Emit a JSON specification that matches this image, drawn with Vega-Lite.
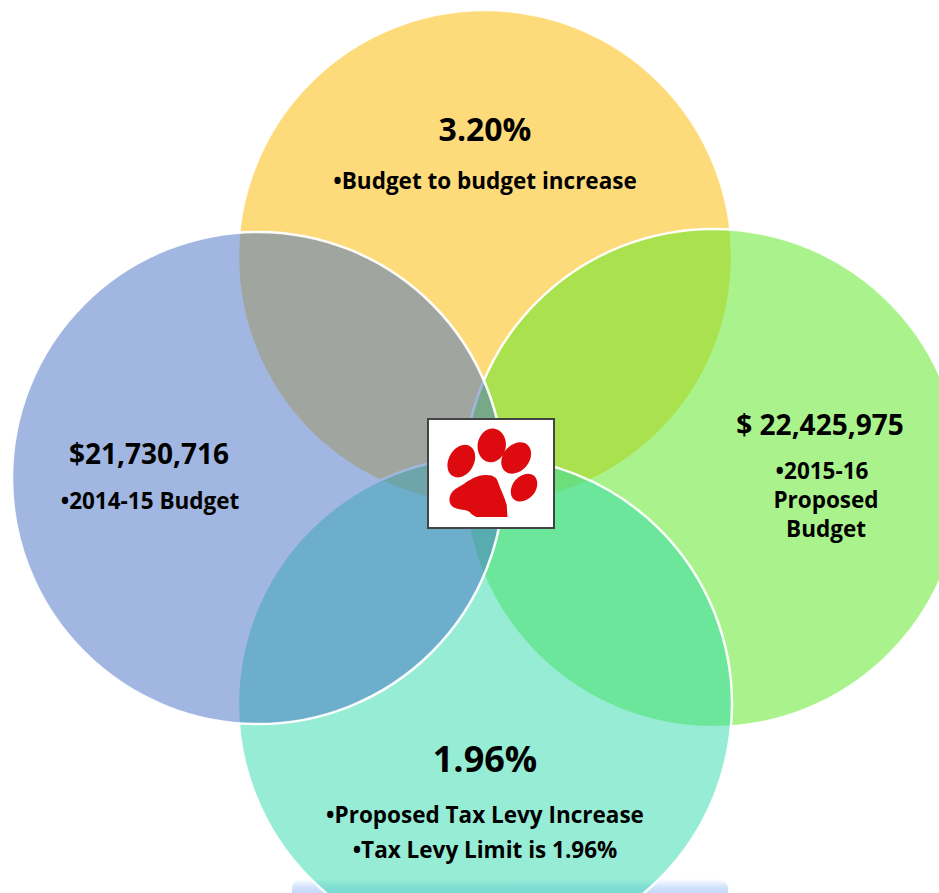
{
  "$schema": "https://vega.github.io/schema/vega-lite/v6.json",
  "width": 939,
  "height": 893,
  "autosize": {"type": "none"},
  "padding": 0,
  "background": "white",
  "config": {"view": {"stroke": null}},
  "datasets": {
    "glow": [{"x0": 292, "x1": 728, "y0": 879, "y1": 905}],
    "circles": [
      {"set": "Budget to budget increase", "cx": 485, "cy": 257, "r": 247},
      {"set": "2015-16 Proposed Budget", "cx": 713, "cy": 478, "r": 249},
      {"set": "Proposed Tax Levy Increase", "cx": 485, "cy": 704, "r": 247},
      {"set": "2014-15 Budget", "cx": 258, "cy": 478, "r": 246}
    ],
    "logo": [{"x0": 428, "x1": 554, "y0": 419, "y1": 528, "cx": 491, "cy": 473.5}],
    "labels": [
      {"text": "3.20%", "tier": "rate", "x": 485, "y": 131},
      {"text": "•Budget to budget increase", "tier": "note", "x": 485, "y": 182},
      {"text": "$21,730,716", "tier": "amount", "x": 149, "y": 456},
      {"text": "•2014-15 Budget", "tier": "note", "x": 150, "y": 502},
      {"text": "$ 22,425,975", "tier": "amount", "x": 820, "y": 427},
      {"text": "•2015-16", "tier": "note", "x": 822, "y": 472},
      {"text": "Proposed", "tier": "note", "x": 826, "y": 501},
      {"text": "Budget", "tier": "note", "x": 826, "y": 530},
      {"text": "1.96%", "tier": "levy", "x": 485, "y": 761},
      {"text": "•Proposed Tax Levy Increase", "tier": "note", "x": 485, "y": 816},
      {"text": "•Tax Levy Limit is 1.96%", "tier": "note", "x": 485, "y": 851}
    ]
  },
  "layer": [
    {
      "data": {"name": "glow"},
      "mark": {
        "type": "rect",
        "cornerRadius": 10,
        "fill": {"gradient": "linear", "x1": 0, "y1": 0, "x2": 0, "y2": 1,
          "stops": [{"offset": 0, "color": "#ffffff"}, {"offset": 0.3, "color": "#c9dcfa"}, {"offset": 1, "color": "#8fb4f2"}]},
        "opacity": 0.8
      },
      "encoding": {
        "x": {"field": "x0", "type": "quantitative", "scale": {"domain": [0, 939], "nice": false, "zero": false}, "axis": null},
        "x2": {"field": "x1"},
        "y": {"field": "y0", "type": "quantitative", "scale": {"domain": [0, 893], "nice": false, "zero": false, "reverse": true}, "axis": null},
        "y2": {"field": "y1"}
      }
    },
    {
      "data": {"name": "circles"},
      "mark": {"type": "point", "shape": "circle", "filled": true, "fillOpacity": 1, "stroke": "white", "strokeWidth": 2.5, "strokeOpacity": 0.95},
      "encoding": {
        "x": {"field": "cx", "type": "quantitative", "axis": null},
        "y": {"field": "cy", "type": "quantitative", "axis": null},
        "size": {"field": "r", "type": "quantitative", "legend": null,
          "scale": {"type": "pow", "exponent": 2, "domain": [0, 250], "range": [0, 250000]}},
        "color": {"field": "set", "type": "nominal", "legend": null,
          "scale": {
            "domain": ["Budget to budget increase", "2015-16 Proposed Budget", "Proposed Tax Levy Increase", "2014-15 Budget"],
            "range": ["rgb(254,219,122)", "rgba(98,233,42,0.54)", "rgba(45,217,169,0.5)", "rgba(67,111,195,0.5)"]
          }}
      }
    },
    {
      "data": {"name": "logo"},
      "mark": {"type": "rect", "fill": "white", "stroke": "#444444", "strokeWidth": 2},
      "encoding": {
        "x": {"field": "x0", "type": "quantitative", "axis": null},
        "x2": {"field": "x1"},
        "y": {"field": "y0", "type": "quantitative", "axis": null},
        "y2": {"field": "y1"}
      }
    },
    {
      "data": {"name": "logo"},
      "mark": {
        "type": "point",
        "filled": true,
        "fill": "#DD0B10",
        "opacity": 1,
        "strokeWidth": 0,
        "size": 4.4,
        "shape": "M -38.7 -17.8 A 12 16.5 30 0 1 -17.9 -5.8 A 12 16.5 30 0 1 -38.7 -17.8 Z M -12.6 -29.1 A 13.5 16.5 10 0 1 14 -24.5 A 13.5 16.5 10 0 1 -12.6 -29.1 Z M 14.4 -22.8 A 12.5 17 40 0 1 33.6 -6.8 A 12.5 17 40 0 1 14.4 -22.8 Z M 23.1 6.4 A 11 15 40 0 1 39.9 20.6 A 11 15 40 0 1 23.1 6.4 Z M -6 1.5 C 2 1 6 4 7 9 C 9 15 13 22 15 30 L 15.7 41.5 L -14 41.5 C -17 40 -19 39 -20 37 C -24 34 -30 35 -34 33 C -40 31 -41 24 -38 19 C -35 14 -30 13 -26 10 C -20 6 -14 2 -6 1.5 Z"
      },
      "encoding": {
        "x": {"field": "cx", "type": "quantitative", "axis": null},
        "y": {"field": "cy", "type": "quantitative", "axis": null}
      }
    },
    {
      "data": {"name": "labels"},
      "transform": [{"filter": "datum.tier === 'note'"}],
      "mark": {"type": "text", "font": "Open Sans", "fontWeight": "bold", "fontSize": 22.5, "align": "center", "baseline": "middle", "color": "#000000"},
      "encoding": {
        "x": {"field": "x", "type": "quantitative", "axis": null},
        "y": {"field": "y", "type": "quantitative", "axis": null},
        "text": {"field": "text"}
      }
    },
    {
      "data": {"name": "labels"},
      "transform": [{"filter": "datum.tier === 'amount'"}],
      "mark": {"type": "text", "font": "Open Sans", "fontWeight": "bold", "fontSize": 28, "align": "center", "baseline": "middle", "color": "#000000"},
      "encoding": {
        "x": {"field": "x", "type": "quantitative", "axis": null},
        "y": {"field": "y", "type": "quantitative", "axis": null},
        "text": {"field": "text"}
      }
    },
    {
      "data": {"name": "labels"},
      "transform": [{"filter": "datum.tier === 'rate'"}],
      "mark": {"type": "text", "font": "Open Sans", "fontWeight": "bold", "fontSize": 32, "align": "center", "baseline": "middle", "color": "#000000"},
      "encoding": {
        "x": {"field": "x", "type": "quantitative", "axis": null},
        "y": {"field": "y", "type": "quantitative", "axis": null},
        "text": {"field": "text"}
      }
    },
    {
      "data": {"name": "labels"},
      "transform": [{"filter": "datum.tier === 'levy'"}],
      "mark": {"type": "text", "font": "Open Sans", "fontWeight": "bold", "fontSize": 36, "align": "center", "baseline": "middle", "color": "#000000"},
      "encoding": {
        "x": {"field": "x", "type": "quantitative", "axis": null},
        "y": {"field": "y", "type": "quantitative", "axis": null},
        "text": {"field": "text"}
      }
    }
  ],
  "resolve": {"scale": {"size": "independent", "color": "independent"}}
}
